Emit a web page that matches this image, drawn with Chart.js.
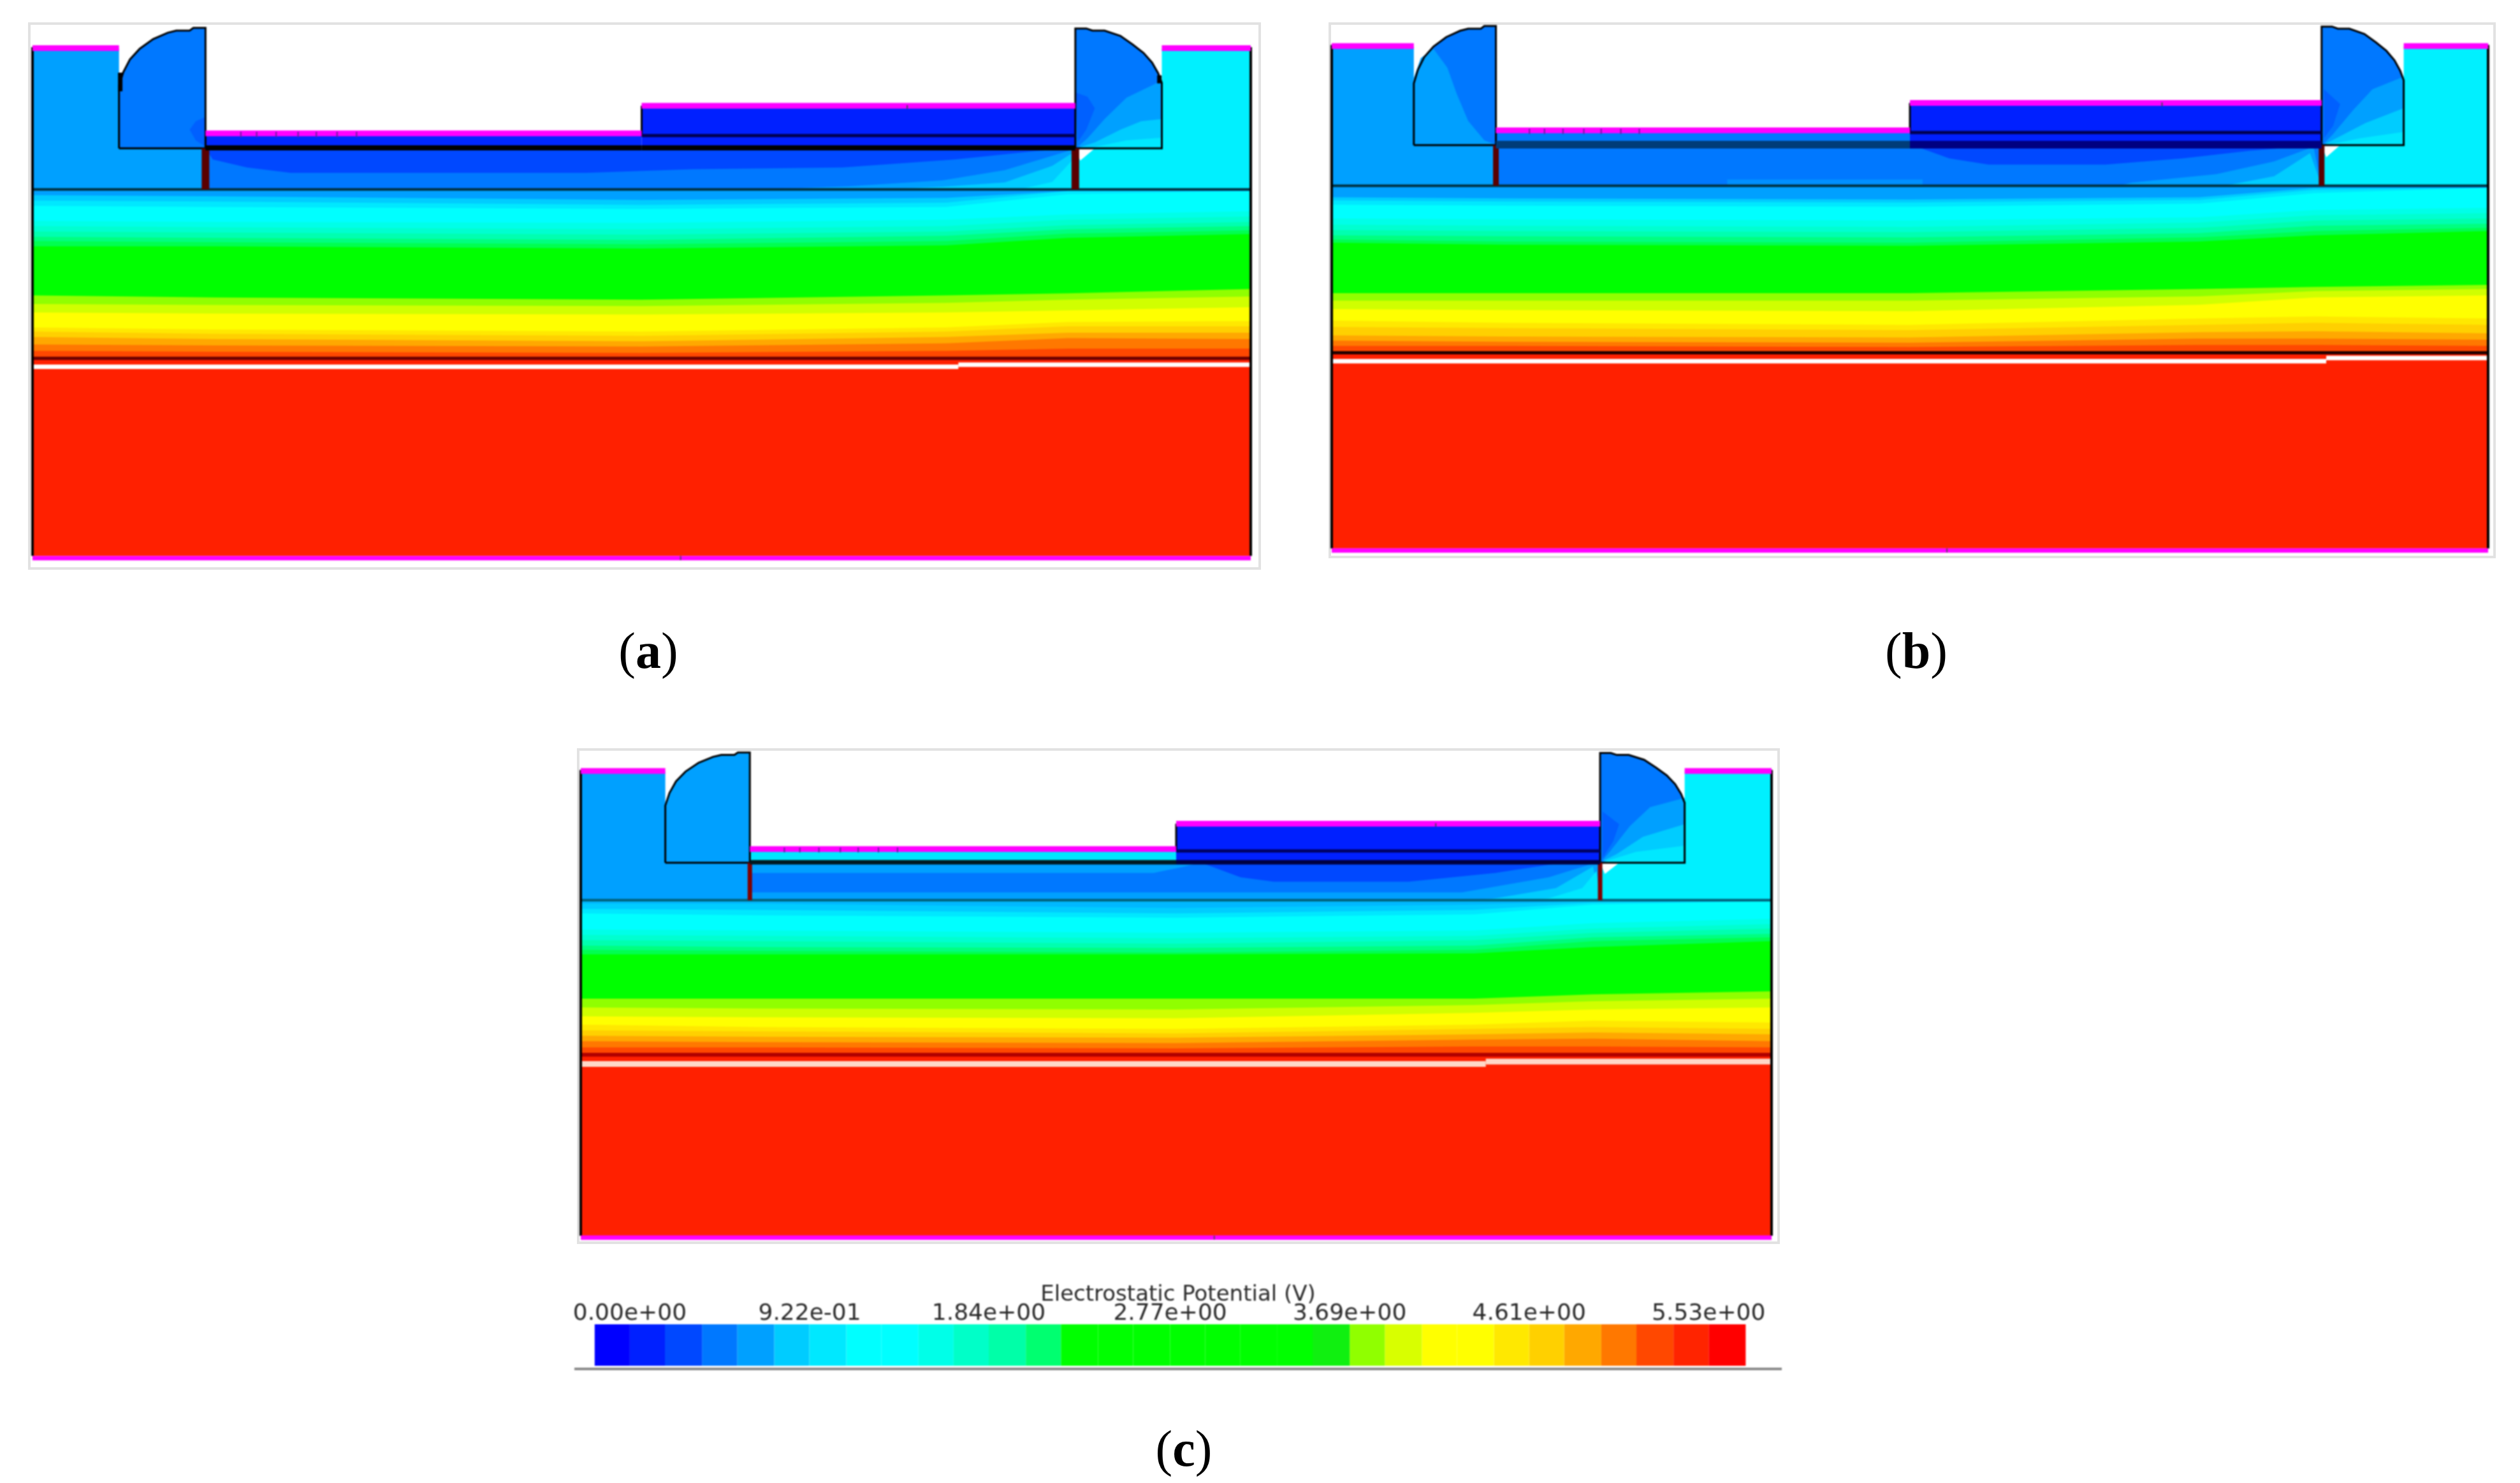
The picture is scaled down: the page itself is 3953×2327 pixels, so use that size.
<!DOCTYPE html>
<html><head><meta charset="utf-8">
<script src="https://cdn.jsdelivr.net/npm/chart.js@4"></script>
<style>
html,body{margin:0;padding:0;background:#fff;width:3953px;height:2327px;overflow:hidden}
canvas{position:absolute;display:block}
.panel{filter:blur(1.2px)}
.frame{position:absolute;box-sizing:border-box;border:4px solid #e2e2e2}
#bar{filter:blur(.8px)}
.cap{position:absolute;width:240px;text-align:center;font:80px/90px "Liberation Serif",serif;color:#000}
</style></head><body>
<div class="frame" style="left:44px;top:35px;width:1934px;height:859px"></div>
<div class="frame" style="left:2084px;top:35px;width:1831px;height:841px"></div>
<div class="frame" style="left:905px;top:1174px;width:1887px;height:778px"></div>
<canvas id="pa" class="panel"></canvas><canvas id="pb" class="panel"></canvas><canvas id="pc" class="panel"></canvas><canvas id="bar"></canvas>
<div class="cap" style="left:897px;top:976px">(<b>a</b>)</div>
<div class="cap" style="left:2886px;top:976px">(<b>b</b>)</div>
<div class="cap" style="left:1737px;top:2228px">(<b>c</b>)</div>
<script>
// ---- colour bar ----
const potentialTicks=[0,0.922,1.84,2.77,3.69,4.61,5.53];
const potentialLabels=['0.00e+00','9.22e-01','1.84e+00','2.77e+00','3.69e+00','4.61e+00','5.53e+00'];
const levelEdges=[-0.18,0.00,0.18,0.37,0.55,0.74,0.92,1.11,1.29,1.48,1.66,1.84,2.03,2.21,2.40,2.58,2.77,2.95,3.13,3.32,3.50,3.69,3.87,4.06,4.24,4.43,4.61,4.79,4.98,5.16,5.35,5.53,5.72];
const levelColors=['#0000ff','#0020ff','#0048ff','#0078ff','#00a0ff','#00ccff','#00e8ff','#00ffff','#00ffff','#00ffe8','#00ffc8','#00ffa8','#00ff70','#00ff00','#00ff00','#00ff00','#00ff00','#00ff00','#00ff00','#00ff00','#10f010','#90ff00','#d8ff00','#ffff00','#ffff00','#ffe800','#ffd000','#ffa800','#ff7800','#ff4800','#ff2400','#ff0000'];

// ---- potential contours in the lower layer (depth at each station) ----
const stations=[0,150,500,750,850,1000];
const contourColors=['#00ccff','#00e8ff','#00ffff','#00ffe8','#00ffd0','#00ffb0','#00ff80','#00ff50','#00ff00','#90ff00','#d0ff00','#ffff00','#ffe800','#ffd000','#ffa800','#ff7800','#ff4800'];
const contoursA=[[315,317,324,320,307,307],[325,327,333,329,307,307],[335,337,341,337,313,307],[363,365,367,361,351,345],[373,375,379,373,361,355],[383,385,389,383,371,365],[393,395,399,391,379,373],[401,403,407,401,387,381],[411,411,415,409,395,388],[503,507,511,503,499,491],[519,521,523,517,511,505],[535,537,539,535,531,525],[563,567,571,563,553,551],[571,575,579,571,561,561],[581,585,589,581,573,573],[595,597,599,593,583,585],[607,609,611,607,603,603]];
const contoursB=[[326,328,330,326,308,308],[332,334,336,331,312,308],[340,342,344,338,318,308],[366,368,370,364,350,346],[378,380,382,374,360,356],[388,390,392,384,370,366],[398,400,402,394,380,376],[406,410,412,402,390,384],[412,416,418,410,398,390],[508,508,508,500,496,492],[522,522,522,514,504,500],[538,540,542,530,516,512],[560,564,568,556,552,556],[572,574,578,568,564,568],[588,590,592,582,580,584],[598,600,602,594,594,596],[608,608,610,606,606,608]];
const contoursC=[[311,311,320,313,306,306],[322,324,331,324,309,306],[331,335,340,333,313,306],[364,366,371,366,351,342],[375,377,382,377,362,353],[386,388,393,386,371,362],[397,400,402,397,380,373],[406,408,411,406,388,380],[415,415,415,413,400,388],[506,506,506,506,497,491],[524,526,528,519,511,506],[542,544,546,535,528,524],[559,564,568,559,551,555],[571,573,577,568,564,568],[582,584,586,579,575,579],[593,595,597,590,588,593],[606,606,608,604,604,606]];

// ---- device outline ----
const sourceRegion=[[0,40],[71,40],[71,227],[142,227],[142,304],[0,304]];
const drainRegion=[[1000,40],[927,40],[927,227],[856,227],[856,304],[1000,304]];
const spacerLeft=[[71,227],[71,110],[74.5,84],[80,60],[88,40],[99,22],[111,10],[118,6],[129,6],[132,1],[142,1],[142,227],[71,227]];
const spacerRight=[[856,227],[856,2],[865,2],[870,6],[880,6],[893,16],[903,32],[912,48],[919,66],[924,86],[927,104],[927,227],[856,227]];
const channelRegion=[[142,227],[856,227],[856,304],[142,304]];
const barrierRegion=[[142,199],[500,199],[500,227],[142,227]];
const gateRegion=[[500,147],[856,147],[856,227],[500,227]];
const gateNotchesLower=[171,184,200,218,233,250,266];

// ---- field patches of each panel ----
const patchesA={
 spacerL:[[[142,168],[134,176],[129,192],[134,212],[142,224]],'#0060ff'],
 right:[
  [[[856,122],[866,130],[872,152],[865,192],[858,215]],'#0060ff'],
  [[[927,100],[898,132],[880,172],[866,208],[858,224],[927,227]],'#00a0ff'],
  [[[927,172],[910,176],[893,192],[872,216],[858,226],[927,227]],'#00ccff'],
  [[[927,207],[898,212],[871,225],[927,227]],'#00e8ff']],
 channel:[
  [[[142,227],[148,248],[176,263],[212,273],[454,273],[542,266],[665,263],[757,248],[824,232],[849,228],[856,227]],'#0048ff'],
  [[[598,304],[670,298],[747,287],[798,268],[840,239],[854,229],[856,304]],'#00a0ff'],
  [[[695,304],[747,299],[798,291],[837,260],[854,235],[856,304]],'#00ccff'],
  [[[800,304],[812,303],[837,290],[854,248],[856,304]],'#00e8ff']]
};
const patchesB={
 spacerL:[[[71,227],[71,100],[77,62],[88,44],[100,80],[108,129],[118,181],[132,218],[142,226]],'#00a0ff'],
 right:[
  [[[858,121],[872,149],[866,190],[858,214]],'#0060ff'],
  [[[927,97],[900,121],[883,161],[866,206],[858,224],[927,227]],'#00a0ff'],
  [[[927,157],[894,185],[872,210],[858,226],[927,227]],'#00ccff'],
  [[[927,202],[889,214],[858,228],[927,228]],'#00e8ff']],
 channel:[
  [[[500,227],[511,234],[534,252],[568,264],[669,264],[736,252],[793,238],[849,228],[856,227]],'#0048ff'],
  [[[342,292],[511,292],[511,304],[342,304]],'#0090ff'],
  [[[680,304],[692,298],[765,282],[815,258],[849,230],[856,304]],'#00a0ff'],
  [[[770,304],[782,300],[815,286],[846,242],[856,304]],'#00ccff']]
};
const patchesC={
 spacerL:null,
 right:[
  [[[858,122],[872,148],[867,183],[858,218]],'#0060ff'],
  [[[927,94],[898,113],[881,152],[864,205],[858,222],[927,227]],'#00a0ff'],
  [[[927,148],[892,174],[870,209],[858,224],[927,227]],'#00ccff'],
  [[[927,192],[886,205],[858,226],[927,227]],'#00e8ff']],
 channel:[
  [[[142,227],[520,227],[505,236],[481,248],[142,248]],'#00a0ff'],
  [[[142,288],[740,288],[813,257],[847,231],[856,227],[856,304],[142,304]],'#00a0ff'],
  [[[510,227],[520,226],[554,257],[582,266],[695,266],[768,248],[824,227],[856,227]],'#0048ff'],
  [[[750,304],[768,300],[819,279],[850,235],[856,304]],'#00ccff'],
  [[[800,304],[813,300],[841,279],[853,244],[856,304]],'#00e8ff']]
};

const panels=[
 {id:'pa',box:[44,35,1934,859],pad:[7,8,16,15],contours:contoursA,base:'#00a0ff',source:'#00a0ff',drain:'#00f0ff',spL:'#0078ff',spR:'#0078ff',
  barL:'#0028ff',barR:'#0028ff',gate:'#0020ff',patches:patchesA,whiteY:[637,633],whiteStep:760,white:'#ffffff',whiteW:7,
  lineBar:'#000000',lineBarW:8,lineBarR:'#000000',lineGate:'#000050',line304:'#00303f',line621:'#6a0000',line621W:5,vW:12,vC:'#5a0000',blob:[[72,85],[72,120]],blobR:[[925,90],[925,105]]},
 {id:'pb',box:[2084,35,1831,841],pad:[5,5,12,9],contours:contoursB,base:'#00a0ff',source:'#00a0ff',drain:'#00f0ff',spL:'#0078ff',spR:'#0078ff',
  barL:'#0078ff',barR:'#0030ff',gate:'#0020ff',patches:patchesB,whiteY:[637,631],whiteStep:860,white:'#ffffff',whiteW:7,
  lineBar:'#003c78',lineBarW:12,lineBarR:'#000080',lineGate:'#000050',line304:'#00303f',line621:'#200000',line621W:5,vW:9,vC:'#5a0000',blob:null,blobR:null},
 {id:'pc',box:[905,1174,1887,778],pad:[6,6,13,7],contours:contoursC,base:'#00b8ff',source:'#00a0ff',drain:'#00f0ff',spL:'#00a0ff',spR:'#0078ff',
  barL:'#00e8ff',barR:'#0030ff',gate:'#0020ff',patches:patchesC,whiteY:[640,635],whiteStep:760,white:'#ffd8c8',whiteW:9,
  lineBar:'#001820',lineBarW:7,lineBarR:'#000040',lineGate:'#000060',line304:'#006078',line621:'#b00000',line621W:6,vW:7,vC:'#800000',blob:null,blobR:null}
];

const pts=a=>a.map(([x,y])=>({x,y}));
const line=(a,color,width)=>({data:pts(a),borderColor:color,borderWidth:width,pointRadius:0,fill:false,clip:false,tension:0,borderCapStyle:'butt',borderJoinStyle:'miter'});
const shape=(a,color)=>({data:pts(a.concat([a[0]])),borderWidth:0,borderColor:'transparent',backgroundColor:color,pointRadius:0,fill:'shape',clip:false,tension:0});
const band=(a,base,color)=>({data:pts(a),borderWidth:0,borderColor:'transparent',backgroundColor:color,pointRadius:0,fill:{value:base},clip:false,tension:0});

function buildPanel(p){
 const d=[];
 d.push(band([[0,304],[1000,304]],621,p.base));
 p.contours.forEach((row,i)=>d.push(band(stations.map((x,j)=>[x,row[j]]),621,contourColors[i])));
 d.push(band([[0,621],[1000,621]],992,'#ff2000'));
 d.push(line([[0,p.whiteY[0]],[p.whiteStep,p.whiteY[0]]],p.white,p.whiteW));
 d.push(line([[p.whiteStep,p.whiteY[1]],[1000,p.whiteY[1]]],p.white,p.whiteW));
 d.push(shape(sourceRegion,p.source));
 d.push(shape(drainRegion,p.drain));
 d.push(shape(spacerLeft,p.spL));
 if(p.patches.spacerL)d.push(shape(p.patches.spacerL[0],p.patches.spacerL[1]));
 d.push(shape(spacerRight,p.spR));
 p.patches.right.forEach(r=>d.push(shape(r[0],r[1])));
 d.push(shape(channelRegion,'#0078ff'));
 p.patches.channel.forEach(r=>d.push(shape(r[0],r[1])));
 d.push(shape(barrierRegion,p.barL));
 d.push(shape(gateRegion,p.gate));
 d.push(shape([[856,227],[872,227],[860,250]],'#ffffff'));
 // strokes
 d.push(line([[0,304],[1000,304]],p.line304,4));
 d.push(line([[0,621],[1000,621]],p.line621,p.line621W));
 d.push(line([[0,37],[0,992]],'#000000',4));
 d.push(line([[1000,37],[1000,992]],'#000000',4));
 d.push(line(spacerLeft,'#000000',3));
 d.push(line(spacerRight,'#000000',3));
 if(p.blob)d.push(line(p.blob,'#000000',7));
 if(p.blobR)d.push(line(p.blobR,'#000000',7));
 d.push(line([[142,227],[142,304]],p.vC,p.vW));
 d.push(line([[856,227],[856,304]],p.vC,p.vW));
 d.push(line([[142,226],[500,226]],p.lineBar,p.lineBarW));
 d.push(line([[500,226],[856,226]],p.lineBarR,p.lineBarW));
 d.push(line([[500,147],[500,204]],'#000000',3));
 d.push(line([[500,203],[856,203]],p.lineGate,5));
 d.push(line([[0,39],[71,39]],'#ff00ff',9));
 d.push(line([[927,39],[1000,39]],'#ff00ff',9));
 d.push(line([[142,199],[500,199]],'#ff00ff',9));
 d.push(line([[500,147],[856,147]],'#ff00ff',9));
 d.push(line([[0,996],[1000,996]],'#ff00ff',7));
 gateNotchesLower.forEach(x=>d.push(line([[x,196],[x,206]],'#6020a0',2)));
 d.push(line([[718,146],[718,153]],'#404060',2));
 d.push(line([[532,992],[532,1000]],'#604060',2));
 d.forEach((s,i)=>{s.order=d.length-i});
 return d;
}
Chart.defaults.animation=false;
panels.forEach(p=>{
 const c=document.getElementById(p.id);
 const [l,t,w,h]=p.box;
 c.width=w;c.height=h;c.style.left=l+'px';c.style.top=t+'px';c.style.width=w+'px';c.style.height=h+'px';
 new Chart(c,{type:'line',data:{datasets:buildPanel(p)},options:{responsive:false,devicePixelRatio:1,animation:false,
  layout:{padding:{left:p.pad[0],top:p.pad[1],right:p.pad[2],bottom:p.pad[3]}},
  plugins:{legend:{display:false},tooltip:{enabled:false},title:{display:false}},
  scales:{x:{type:'linear',min:0,max:1000,display:false},y:{type:'linear',min:0,max:1000,reverse:true,display:false}}}});
});

// colour bar chart
(function(){
 const c=document.getElementById('bar');
 const l=901,t=2000,w=1894,h=152;
 c.width=w;c.height=h;c.style.left=l+'px';c.style.top=t+'px';c.style.width=w+'px';c.style.height=h+'px';
 const ds=levelColors.map((col,i)=>({label:'L'+i,data:[[levelEdges[i],levelEdges[i+1]]],backgroundColor:col,borderWidth:0,barPercentage:0.867,categoryPercentage:1,grouped:false}));
 new Chart(c,{type:'bar',data:{labels:['Potential'],datasets:ds},options:{indexAxis:'y',responsive:false,devicePixelRatio:1,animation:false,
  layout:{padding:{bottom:4,left:0,right:0,top:0}},
  plugins:{legend:{display:false},tooltip:{enabled:false}},
  scales:{
   x:{type:'linear',position:'top',min:-0.284,max:5.905,stacked:false,
     afterBuildTicks:a=>{a.ticks=potentialTicks.map(v=>({value:v}))},
     afterFit:a=>{a.height=73},
     grid:{display:false,drawTicks:false},border:{display:false},
     ticks:{autoSkip:false,maxRotation:0,padding:-10,color:'#2a2a2a',font:{family:'DejaVu Sans',size:36},
       callback:(v,i)=>potentialLabels[i]},
     title:{display:true,text:'Electrostatic Potential (V)',color:'#2a2a2a',padding:{top:12,bottom:0},font:{family:'DejaVu Sans',size:34}}},
   x2:{type:'linear',position:'bottom',min:0,max:1,grid:{display:false,drawTicks:false},ticks:{display:false},border:{display:true,color:'#888888',width:4}},
   y:{display:false,stacked:false}
  }}});
})();
</script>
</body></html>
